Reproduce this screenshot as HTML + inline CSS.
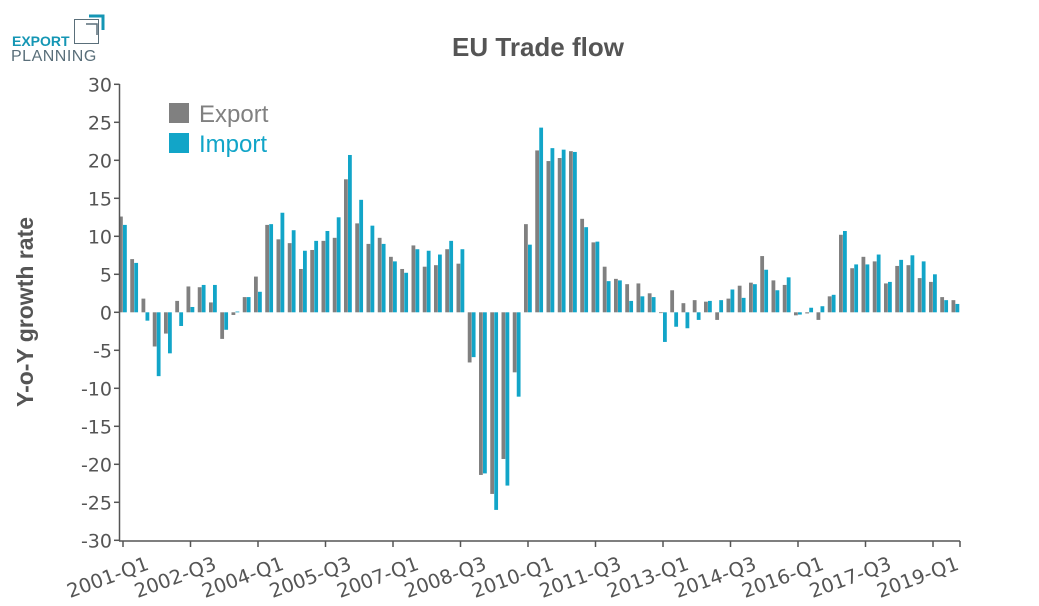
<!DOCTYPE html>
<html><head><meta charset="utf-8"><style>
html,body{margin:0;padding:0;background:#fff;}
svg{display:block;font-family:"Liberation Sans",sans-serif;}
</style></head><body>
<svg id="c" width="1039" height="606" xmlns="http://www.w3.org/2000/svg">
<text x="12" y="46" font-size="14" font-weight="bold" fill="#1496b4">EXPORT</text>
<text x="11" y="61" font-size="16" fill="#5a6f7a" letter-spacing="0.5">PLANNING</text>
<rect x="74.5" y="19.5" width="24" height="24" fill="none" stroke="#5a6f7a" stroke-width="1"/>
<path d="M86 24 H97 V35" fill="none" stroke="#5a6f7a" stroke-width="1.5"/>
<path d="M89 16 H103 V30" fill="none" stroke="#1496b4" stroke-width="3"/>
<text x="538" y="56" font-size="26" font-weight="bold" fill="#555" text-anchor="middle">EU Trade flow</text>
<text transform="translate(33,312) rotate(-90)" font-size="23" font-weight="bold" fill="#555" text-anchor="middle">Y-o-Y growth rate</text>
<rect x="169" y="103" width="20" height="20" fill="#808080"/>
<text x="199" y="122" font-size="24" fill="#808080">Export</text>
<rect x="169" y="133" width="20" height="20" fill="#12a5c8"/>
<text x="199" y="152" font-size="24" fill="#12a5c8">Import</text>
<g id="bars"></g>
<g id="axes" stroke="#555" stroke-width="1.5" fill="none">
<line x1="119.5" y1="84" x2="119.5" y2="541"/>
<line x1="119" y1="541" x2="960" y2="541"/>
</g>
<g id="lab" font-family="DejaVu Sans, sans-serif"></g>
</svg>
<script>
var E=[12.6,7.0,1.8,-4.5,-2.8,1.5,3.4,3.3,1.3,-3.5,-0.35,2.0,4.7,11.5,9.6,9.1,5.7,8.2,9.4,9.8,17.5,11.7,9.0,9.8,7.3,5.7,8.8,6.0,6.2,8.3,6.4,-6.6,-21.4,-23.9,-19.3,-7.9,11.6,21.3,19.9,20.3,21.2,12.3,9.2,6.0,4.4,3.7,3.8,2.5,-0.1,2.9,1.2,1.6,1.4,-1.0,1.8,3.5,3.9,7.4,4.2,3.6,-0.4,-0.15,-1.0,2.1,10.2,5.8,7.3,6.7,3.8,6.1,6.2,4.5,4.0,2.0,1.6];
var I=[11.5,6.5,-1.1,-8.4,-5.4,-1.8,0.7,3.6,3.6,-2.3,0.1,2.0,2.7,11.6,13.1,10.8,8.1,9.4,10.7,12.5,20.7,14.8,11.4,9.0,6.7,5.2,8.3,8.1,7.6,9.4,8.3,-5.9,-21.2,-26.0,-22.8,-11.1,8.9,24.3,21.6,21.4,21.1,11.2,9.3,4.1,4.2,1.5,2.1,2.0,-3.9,-1.9,-2.1,-1.0,1.5,1.6,3.0,1.9,3.7,5.6,2.9,4.6,-0.3,0.6,0.8,2.3,10.7,6.3,6.3,7.6,4.0,6.9,7.5,6.7,5.0,1.6,1.1];
var NS="http://www.w3.org/2000/svg";
function el(t,a,p,txt){var e=document.createElementNS(NS,t);for(var k in a)e.setAttribute(k,a[k]);if(txt!==undefined)e.textContent=txt;p.appendChild(e);return e;}
var b=document.getElementById('bars'),l=document.getElementById('lab'),ax=document.getElementById('axes');
function Y(v){return 312.3-v*7.6;}
for(var i=0;i<E.length;i++){var c=123+11.25*i;
 [[E[i],c-4,'#808080'],[I[i],c,'#12a5c8']].forEach(function(d){var y0=Y(0),y1=Y(d[0]);el('rect',{x:d[1],y:Math.min(y0,y1),width:3.8,height:Math.max(0.8,Math.abs(y1-y0)),fill:d[2]},b);});
}
for(var v=-30;v<=30;v+=5){var y=Y(v);el('line',{x1:114,y1:y,x2:119.5,y2:y},ax);el('text',{x:112,y:y+7,'font-size':19,fill:'#555','text-anchor':'end'},l,String(v));}
var labs=['2001-Q1','2002-Q3','2004-Q1','2005-Q3','2007-Q1','2008-Q3','2010-Q1','2011-Q3','2013-Q1','2014-Q3','2016-Q1','2017-Q3','2019-Q1'];
for(var j=0;j<labs.length;j++){var x=123+67.5*j;el('line',{x1:x,y1:541,x2:x,y2:547},ax);el('text',{transform:'translate('+(x+27)+',569) rotate(-20)','font-size':19.5,fill:'#555','text-anchor':'end'},l,labs[j]);}
el('line',{x1:960,y1:541,x2:960,y2:547},ax);
</script>
</body></html>
